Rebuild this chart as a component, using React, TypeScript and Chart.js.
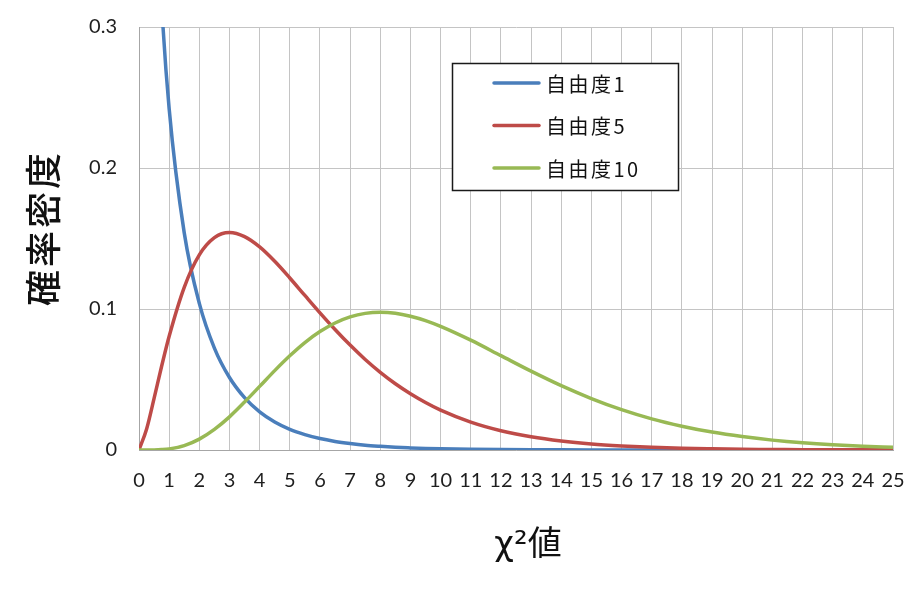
import React, { useEffect, useRef } from "react";
import { Chart, registerables } from "chart.js";

Chart.register(...registerables);

// x positions (χ² values)
const xValues = [
  0, 0.25, 0.5, 0.75, 1, 1.5, 2, 2.5, 3, 3.5, 4, 4.5, 5, 5.5, 6, 6.5, 7, 7.5, 8, 8.5, 9, 9.5, 10,
  11, 12, 13, 14, 15, 16, 17, 18, 19, 20, 21, 22, 23, 24, 25,
];

// degrees of freedom 1
const df1 = [
  null, 0.704, 0.439, 0.317, 0.242, 0.154, 0.104, 0.0723, 0.0514, 0.0371, 0.027, 0.0198, 0.0146,
  0.0109, 0.0081, 0.0061, 0.0046, 0.0034, 0.0026, 0.00195, 0.0015, 0.00112, 0.00085,
  0.00049, 0.00029, 0.00017, 0.0001, 0.00006, 0.00003, 0.00002, 0.00001, 0.00001, 0, 0, 0, 0, 0, 0,
];

// degrees of freedom 5
const df5 = [
  0, 0.0147, 0.0366, 0.0594, 0.0807, 0.1154, 0.1384, 0.1506, 0.1542, 0.1513, 0.144, 0.1338, 0.122,
  0.1096, 0.0973, 0.0855, 0.0744, 0.0642, 0.0551, 0.047, 0.0399, 0.0337, 0.0283,
  0.0198, 0.0137, 0.0094, 0.0064, 0.0043, 0.0029, 0.0019, 0.0012, 0.0008, 0.0005, 0.0004, 0.0002,
  0.0002, 0.0001, 0.0001,
];

// degrees of freedom 10
const df10 = [
  0, 0.000005, 0.00006, 0.0003, 0.0008, 0.0031, 0.0077, 0.0146, 0.0235, 0.034, 0.0451, 0.0563,
  0.0668, 0.0762, 0.084, 0.0901, 0.0944, 0.0969, 0.0977, 0.097, 0.0949, 0.0918, 0.0877,
  0.0779, 0.0669, 0.0559, 0.0456, 0.0365, 0.0286, 0.0221, 0.0169, 0.0127, 0.0095, 0.007, 0.0051,
  0.0037, 0.0027, 0.0019,
];

const seriesLabels = ["自由度1", "自由度5", "自由度10"];
const seriesColors = ["#4A7EBB", "#BE4B48", "#98B954"];
const seriesValues = [df1, df5, df10];

const xTitle = "χ²値";
const yTitle = "確率密度";

const CJK = "'Noto Sans CJK JP'";

const overlayPlugin = {
  id: "overlayText",
  afterDraw(chart: any) {
    const ctx = chart.ctx as CanvasRenderingContext2D;
    ctx.save();

    // Legend box
    const bx = 452.5, by = 63.5, bw = 226, bh = 127;
    ctx.fillStyle = "#ffffff";
    ctx.fillRect(bx, by, bw, bh);
    ctx.strokeStyle = "#1a1a1a";
    ctx.lineWidth = 1.5;
    ctx.strokeRect(bx, by, bw, bh);

    chart.data.datasets.forEach((ds: any, i: number) => {
      const y = 83 + i * 42.5;
      ctx.strokeStyle = ds.borderColor;
      ctx.lineWidth = 3.5;
      ctx.lineCap = "round";
      ctx.beginPath();
      ctx.moveTo(494, y);
      ctx.lineTo(539, y);
      ctx.stroke();
      ctx.fillStyle = "#111111";
      ctx.font = `20px ${CJK}`;
      (ctx as any).letterSpacing = "2.5px";
      ctx.textAlign = "left";
      ctx.textBaseline = "middle";
      ctx.fillText(ds.label, 546, y + 1);
    });

    // Y axis title
    ctx.save();
    ctx.translate(43, 228);
    ctx.rotate(-Math.PI / 2);
    ctx.fillStyle = "#111111";
    ctx.font = `500 36px ${CJK}`;
    (ctx as any).letterSpacing = "3px";
    ctx.textAlign = "center";
    ctx.textBaseline = "middle";
    ctx.fillText(yTitle, 0, 0);
    ctx.restore();

    // X axis title
    ctx.fillStyle = "#111111";
    ctx.font = `34px 'DejaVu Sans', ${CJK}`;
    (ctx as any).letterSpacing = "0px";
    ctx.textAlign = "center";
    ctx.textBaseline = "middle";
    ctx.fillText(xTitle, 528, 546);

    ctx.restore();
  },
};

export default function App() {
  const canvasRef = useRef<HTMLCanvasElement | null>(null);

  useEffect(() => {
    const canvas = canvasRef.current;
    if (!canvas) return;
    const datasets = seriesLabels.map((label, i) => ({
      label,
      data: xValues.map((x, j) => ({ x, y: seriesValues[i][j] })),
      borderColor: seriesColors[i],
      backgroundColor: seriesColors[i],
      borderWidth: 3.5,
      pointRadius: 0,
      fill: false,
      cubicInterpolationMode: "monotone" as const,
      order: 3 - i,
    }));

    const chart = new Chart(canvas, {
      type: "line",
      data: { datasets },
      plugins: [overlayPlugin],
      options: {
        animation: false,
        responsive: false,
        maintainAspectRatio: false,
        layout: { padding: { left: 0, top: 27, right: 26, bottom: 0 } },
        plugins: {
          legend: { display: false },
          tooltip: { enabled: false },
          title: { display: false },
        },
        scales: {
          x: {
            type: "linear",
            min: 0,
            max: 25,
            ticks: {
              stepSize: 1,
              autoSkip: false,
              maxRotation: 0,
              padding: 19,
              color: "#1e1e1e",
              font: { family: "Lato", size: 20 },
            },
            grid: { color: "#c4c4c4", lineWidth: 1, drawTicks: false },
            border: { color: "#a6a6a6", width: 1 },
            afterFit(scale: any) {
              scale.height = 145;
              scale.paddingLeft = 0;
              scale.paddingRight = 0;
            },
          },
          y: {
            type: "linear",
            min: 0,
            max: 0.3,
            ticks: {
              stepSize: 0.1,
              padding: 22,
              color: "#1e1e1e",
              font: { family: "Lato", size: 20 },
              callback: (v: any) => (Number(v) === 0 ? "0" : Number(v).toFixed(1)),
            },
            grid: { color: "#c4c4c4", lineWidth: 1, drawTicks: false },
            border: { color: "#a6a6a6", width: 1 },
            afterFit(scale: any) {
              scale.width = 139;
              scale.paddingTop = 0;
              scale.paddingBottom = 0;
            },
          },
        },
      },
    });
    return () => chart.destroy();
  }, []);

  return (
    <div style={{ position: "fixed", left: 0, top: 0, width: 919, height: 595, background: "#fff" }}>
      <canvas ref={canvasRef} width={919} height={595} style={{ display: "block" }} />
    </div>
  );
}
